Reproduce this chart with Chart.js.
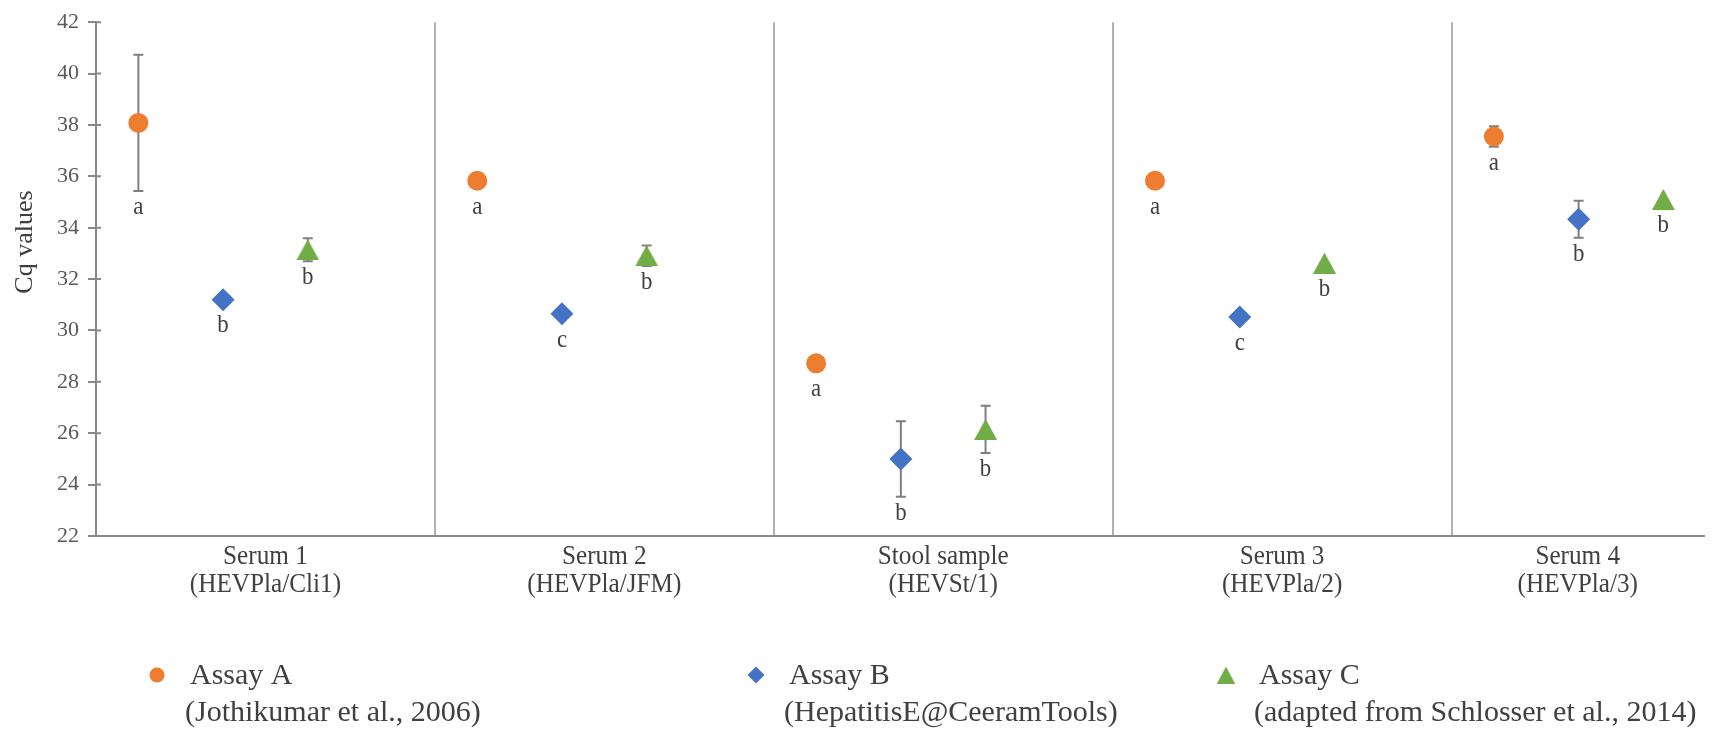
<!DOCTYPE html>
<html>
<head>
<meta charset="utf-8">
<script src="https://cdn.jsdelivr.net/npm/chart.js@4.4.0/dist/chart.umd.min.js"></script>
<style>
  html, body { margin: 0; background: #fff; }
  #wrap { width: 1716px; height: 731px; position: relative; }
</style>
</head>
<body>
<div id="wrap"><canvas id="chart"></canvas></div>
<script>
const SAMPLES = [
  ["Serum 1", "(HEVPla/Cli1)"],
  ["Serum 2", "(HEVPla/JFM)"],
  ["Stool sample", "(HEVSt/1)"],
  ["Serum 3", "(HEVPla/2)"],
  ["Serum 4", "(HEVPla/3)"],
];
const ASSAY_NAMES = [
  ["Assay A", "(Jothikumar et al., 2006)"],
  ["Assay B", "(HepatitisE@CeeramTools)"],
  ["Assay C", "(adapted from Schlosser et al., 2014)"],
];

// mean Cq and standard deviation per sample
const ASSAY_A = [38.08, 35.83, 28.72, 35.83, 37.55];
const ASSAY_A_SD = [2.65, 0, 0, 0, 0.4];
const ASSAY_B = [31.2, 30.65, 25.0, 30.52, 34.33];
const ASSAY_B_SD = [0, 0, 1.47, 0, 0.72];
const ASSAY_C = [33.14, 32.91, 26.15, 32.62, 35.1];
const ASSAY_C_SD = [0.45, 0.4, 0.92, 0, 0];

// significance letters
const LETTERS_A = ["a", "a", "a", "a", "a"];
const LETTERS_B = ["b", "c", "b", "c", "b"];
const LETTERS_C = ["b", "b", "b", "b", "b"];

const Y_MIN = 22;
const Y_MAX = 42;
const Y_STEP = 2;

const ORANGE = "#ED7D31";
const BLUE = "#4472C4";
const GREEN = "#70AD47";
const AXIS_GREY = "#898989";
const SEP_GREY = "#B0B0B0";
const TEXT = "#404040";
const SERIF = '"Liberation Serif", "Times New Roman", serif';

const X_MAX = 4.745; // the right-hand panel is cut by the picture edge
const SLOT = [0.125, 0.375, 0.625];

function makeTriangle(w, h, color) {
  const c = document.createElement("canvas");
  c.width = w;
  c.height = h;
  const g = c.getContext("2d");
  g.fillStyle = color;
  g.beginPath();
  g.moveTo(w / 2, 0);
  g.lineTo(w, h);
  g.lineTo(0, h);
  g.closePath();
  g.fill();
  return c;
}
const TRI = makeTriangle(23, 21, GREEN);
const TRI_SMALL = makeTriangle(18, 17, GREEN);

function points(values, slot) {
  return values.map((v, i) => ({ x: i + slot, y: v }));
}

// text in the picture is slightly narrow, so squeeze it a little
function squeezedText(ctx, text, x, y, sx) {
  ctx.save();
  ctx.translate(x, y);
  ctx.scale(sx, 1);
  ctx.fillText(text, 0, 0);
  ctx.restore();
}

const SERIES = [
  { label: "Assay A", values: ASSAY_A, sd: ASSAY_A_SD, letters: LETTERS_A, color: ORANGE, style: "circle", radius: 10, legendStyle: "circle", legendRadius: 7.5 },
  { label: "Assay B", values: ASSAY_B, sd: ASSAY_B_SD, letters: LETTERS_B, color: BLUE, style: "rectRot", radius: 11.5, legendStyle: "rectRot", legendRadius: 8.5 },
  { label: "Assay C", values: ASSAY_C, sd: ASSAY_C_SD, letters: LETTERS_C, color: GREEN, style: TRI, radius: 12, legendStyle: TRI_SMALL, legendRadius: 9 },
];
const LEGEND_X = [157, 756, 1226];

const errorBars = {
  id: "errorBars",
  beforeDatasetsDraw(chart) {
    const { ctx, scales } = chart;
    const y = scales.y;
    ctx.save();
    // tick marks cross the y axis slightly
    ctx.strokeStyle = AXIS_GREY;
    ctx.lineWidth = 2;
    ctx.beginPath();
    y.ticks.forEach((t) => {
      const py = y.getPixelForValue(t.value);
      ctx.moveTo(y.right, py);
      ctx.lineTo(y.right + 5, py);
    });
    ctx.stroke();

    ctx.strokeStyle = "#7F7F7F";
    SERIES.forEach((s, k) => {
      s.values.forEach((v, i) => {
        if (!s.sd[i]) return;
        const px = scales.x.getPixelForValue(i + SLOT[k]);
        const top = y.getPixelForValue(v + s.sd[i]);
        const bot = y.getPixelForValue(v - s.sd[i]);
        ctx.beginPath();
        ctx.moveTo(px, top);
        ctx.lineTo(px, bot);
        ctx.moveTo(px - 5, top);
        ctx.lineTo(px + 5, top);
        ctx.moveTo(px - 5, bot);
        ctx.lineTo(px + 5, bot);
        ctx.stroke();
      });
    });
    ctx.restore();
  },
};

const annotations = {
  id: "annotations",
  afterDraw(chart) {
    const { ctx, scales, chartArea } = chart;
    const x = scales.x;
    const y = scales.y;
    ctx.save();
    ctx.fillStyle = TEXT;
    ctx.textAlign = "center";
    ctx.textBaseline = "middle";

    // significance letters under each marker
    ctx.font = "26px " + SERIF;
    SERIES.forEach((s, k) => {
      s.values.forEach((v, i) => {
        const px = x.getPixelForValue(i + SLOT[k]);
        const py = y.getPixelForValue(v);
        const below = s.sd[i] ? y.getPixelForValue(v - s.sd[i]) + 16 : 0;
        squeezedText(ctx, s.letters[i], px, Math.max(py + 26, below), 0.88);
      });
    });

    // two-line sample labels, centred on the visible part of each panel
    ctx.font = "28px " + SERIF;
    SAMPLES.forEach((lines, i) => {
      const cx = x.getPixelForValue((i + Math.min(i + 1, X_MAX)) / 2);
      squeezedText(ctx, lines[0], cx, chartArea.bottom + 21, 0.9);
      squeezedText(ctx, lines[1], cx, chartArea.bottom + 49, 0.9);
    });

    // y axis title
    ctx.save();
    ctx.translate(25, 242);
    ctx.rotate(-Math.PI / 2);
    ctx.font = "26px " + SERIF;
    ctx.fillText("Cq values", 0, 0);
    ctx.restore();

    // legend
    ctx.textAlign = "left";
    ctx.font = "30px " + SERIF;
    SERIES.forEach((s, k) => {
      ctx.fillStyle = s.color;
      Chart.helpers.drawPoint(ctx, {
        pointStyle: s.legendStyle,
        radius: s.legendRadius,
        rotation: 0,
        borderWidth: 0,
      }, LEGEND_X[k], 675);
      ctx.fillStyle = TEXT;
      ctx.fillText(ASSAY_NAMES[k][0], LEGEND_X[k] + 33, 676);
      ctx.fillText(ASSAY_NAMES[k][1], LEGEND_X[k] + 28, 713);
    });
    ctx.restore();
  },
};

new Chart(document.getElementById("chart"), {
  type: "scatter",
  data: {
    datasets: SERIES.map((s, k) => ({
      label: s.label,
      data: points(s.values, SLOT[k]),
      pointStyle: s.style,
      pointRadius: s.radius,
      pointHoverRadius: s.radius,
      backgroundColor: s.color,
      borderColor: s.color,
      borderWidth: 0,
      showLine: false,
    })),
  },
  options: {
    responsive: true,
    maintainAspectRatio: false,
    animation: false,
    layout: { padding: { top: 18, right: 0, bottom: 0, left: 0 } },
    plugins: { legend: { display: false }, tooltip: { enabled: false } },
    scales: {
      x: {
        type: "linear",
        min: 0,
        max: X_MAX,
        ticks: { display: false, stepSize: 1 },
        grid: {
          drawTicks: false,
          lineWidth: 2,
          color: (c) => {
            const v = c.tick && c.tick.value;
            return Number.isInteger(v) && v > 0 ? SEP_GREY : "rgba(0,0,0,0)";
          },
        },
        border: { display: true, color: AXIS_GREY, width: 2 },
        afterFit(scale) { scale.height = 195; },
      },
      y: {
        min: Y_MIN,
        max: Y_MAX,
        ticks: {
          stepSize: Y_STEP,
          padding: 9,
          color: "#595959",
          font: { family: SERIF, size: 22 },
        },
        grid: { drawOnChartArea: false, tickLength: 8, color: AXIS_GREY, lineWidth: 2 },
        border: { display: true, color: AXIS_GREY, width: 2 },
        afterFit(scale) { scale.width = 96; },
      },
    },
  },
  plugins: [errorBars, annotations],
});
</script>
</body>
</html>
